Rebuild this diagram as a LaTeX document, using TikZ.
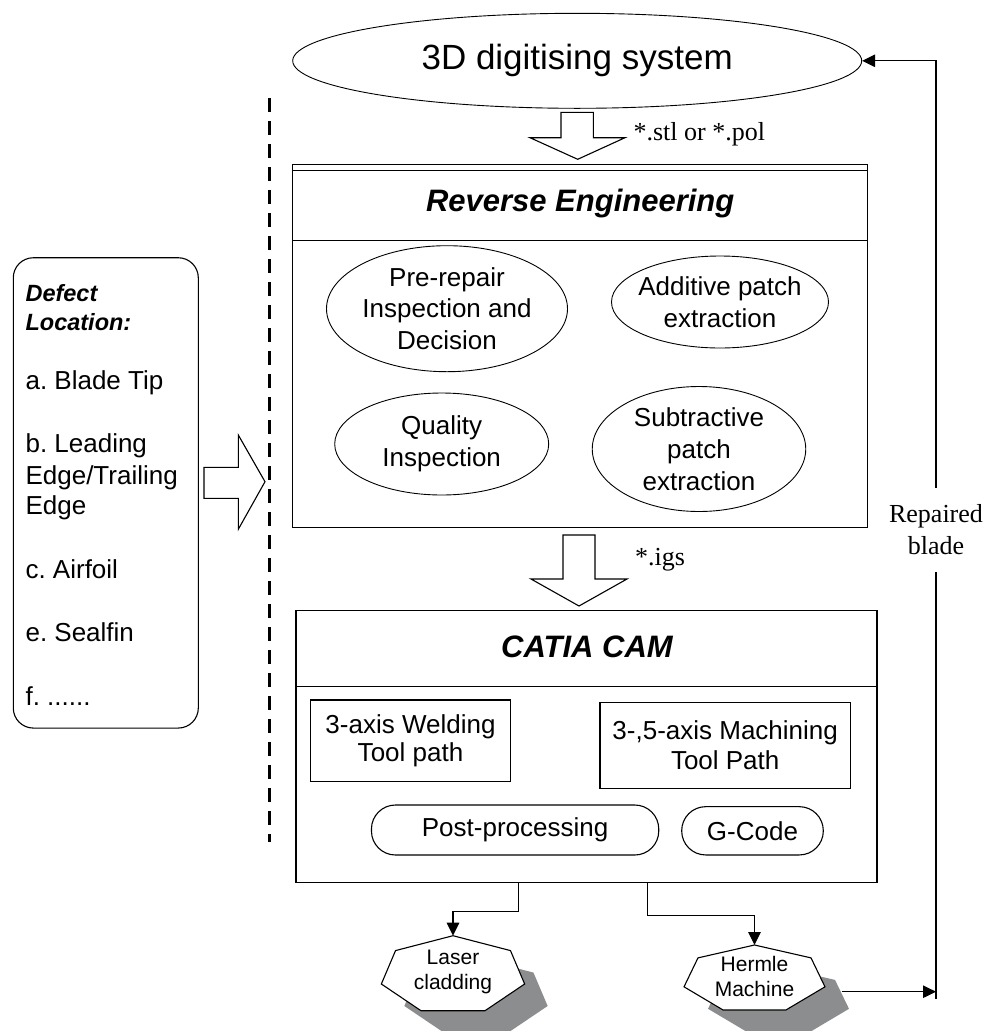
\documentclass[tikz,border=0pt]{standalone}
\usepackage{fontspec}
\setmainfont{Liberation Sans}
\newfontfamily\timesfont{Liberation Serif}
\usetikzlibrary{shapes.geometric, arrows.meta, calc}
\definecolor{shadowgray}{RGB}{140,141,143}
\frenchspacing
\begin{document}
\begin{tikzpicture}[x=1pt, y=-1pt,
  line width=1.1pt,
  boxline/.style={draw, line width=1.2pt, inner sep=0pt},
  ellbox/.style={draw, ellipse, line width=0.9pt, inner sep=0pt},
  txt/.style={font=\fontsize{26}{31.7}\selectfont, align=center, inner sep=0pt},
  ttl/.style={font=\fontsize{31}{36}\selectfont\bfseries\itshape, inner sep=0pt},
  lefttxt/.style={font=\fontsize{26}{31}\selectfont, anchor=base west, inner sep=0pt},
  leftttl/.style={font=\fontsize{23.5}{28}\selectfont\bfseries\itshape, anchor=base west, inner sep=0pt},
  serif/.style={font=\fontsize{26}{32}\selectfont\timesfont, inner sep=0pt},
  arr/.style={-{Triangle[length=13pt,width=12.5pt]}, line width=1.1pt},
  blockarrow/.style={draw, fill=white, line width=1.1pt},
  heptxt/.style={font=\fontsize{21}{24.5}\selectfont, align=center, inner sep=0pt},
  pill/.style={draw, line width=1.1pt, rounded corners=24pt, inner sep=0pt, font=\fontsize{26}{31}\selectfont},
  innerbox/.style={draw, line width=1.1pt, inner sep=0pt, align=center},
]
\useasboundingbox (0,0) rectangle (996,1031);

% dashed separator
\coordinate (dashtop) at (269.3,98);
\coordinate (dashbot) at (269.3,842);
\draw[line width=2.7pt, dash pattern=on 14pt off 9pt] (dashtop) -- (dashbot);

% 3D digitising system
\node[ellbox, minimum width=569pt, minimum height=95pt, font=\fontsize{35}{40}\selectfont] (digit) at (577.2,60.8) {3D digitising system};

% block arrow 1
\draw[blockarrow] (561,112.3) -- (593.3,112.3) -- (593.3,137.7) -- (625,137.7) -- (577.7,159.3) -- (530,137.7) -- (561,137.7) -- cycle;
\node[serif, anchor=base west] (stl) at (633,140) {*.stl or *.pol};

% Reverse Engineering box
\node[boxline, minimum width=575pt, minimum height=363.4pt] (re) at (580.2,346) {};
\draw[line width=1.2pt] ([yshift=-6.7pt]re.north west) -- ([yshift=-6.7pt]re.north east);
\draw[line width=1.2pt] ([yshift=-76.4pt]re.north west) -- ([yshift=-76.4pt]re.north east);
\node[ttl] (retitle) at (580.2,203.7) {Reverse Engineering};

\node[ellbox, minimum width=241pt, minimum height=126pt, label={[txt]center:{Pre-repair\\Inspection and\\Decision}}] (pre) at (447,308.7) {};
\node[ellbox, minimum width=217pt, minimum height=92pt, label={[txt]center:{Additive patch\\extraction}}] (add) at (720,302) {};
\node[ellbox, minimum width=214pt, minimum height=102pt, label={[txt]center:{Quality\\Inspection}}] (qual) at (441.7,444) {};
\node[ellbox, minimum width=213.5pt, minimum height=125pt, label={[txt]center:{Subtractive\\patch\\extraction}}] (sub) at (699,449) {};

% Defect location box
\node[draw, line width=1.1pt, rounded corners=20pt, minimum width=185pt, minimum height=470.3pt, inner sep=0pt] (defect) at (105.8,492.9) {};
\node[leftttl] (d1) at (25,301.7) {Defect};
\node[leftttl] (d2) at (25,330) {Location:};
\node[lefttxt] (d3) at (25,389.3) {a. Blade Tip};
\node[lefttxt] (d4) at (25,452.7) {b. Leading};
\node[lefttxt] (d5) at (25,484) {Edge/Trailing};
\node[lefttxt] (d6) at (25,514.3) {Edge};
\node[lefttxt] (d7) at (25,578.3) {c. Airfoil};
\node[lefttxt] (d8) at (25,641.7) {e. Sealfin};
\node[lefttxt] (d9) at (25,705) {f. ......};

% left block arrow
\draw[blockarrow] (204,467.3) -- (238.3,467.3) -- (238.3,435) -- (265,481.7) -- (238.3,529.3) -- (238.3,498.3) -- (204,498.3) -- cycle;

% block arrow 2
\draw[blockarrow] (563,535) -- (595,535) -- (595,579) -- (627,579) -- (579,606) -- (531,579) -- (563,579) -- cycle;
\node[serif, anchor=base west] (igs) at (634.5,565) {*.igs};

% CATIA CAM box
\node[boxline, minimum width=581pt, minimum height=271.6pt] (cam) at (586.5,746.5) {};
\draw[line width=1.2pt] ([yshift=-76pt]cam.north west) -- ([yshift=-76pt]cam.north east);
\node[ttl] (camtitle) at (587,646.7) {CATIA CAM};

\node[innerbox, minimum width=200.7pt, minimum height=81.7pt, font=\fontsize{26}{28.5}\selectfont] (weld) at (410.5,740.8) {3-axis Welding\\Tool path};
\node[innerbox, minimum width=250.5pt, minimum height=85.8pt, font=\fontsize{26}{30.5}\selectfont] (mach) at (725.2,745.4) {3-,5-axis Machining\\Tool Path};
\node[pill, minimum width=287.3pt, minimum height=50pt] (post) at (515.1,830) {Post-processing};
\node[pill, minimum width=141.6pt, minimum height=48.3pt] (gcode) at (752.5,830.8) {G-Code};

% heptagons with shadows
\fill[shadowgray, shift={(476,997.2)}, xscale=73.5, yscale=39.5] (270:1) \foreach \k in {1,...,6} { -- (270+\k*51.4286:1) } -- cycle;
\draw[fill=white, line width=1.1pt, shift={(453,975.2)}, xscale=73.5, yscale=39.5] (270:1) \foreach \k in {1,...,6} { -- (270+\k*51.4286:1) } -- cycle;
\node[heptxt] (laser) at (453,972) {Laser\\cladding};

\fill[shadowgray, shift={(778.5,1001.2)}, xscale=72.3, yscale=34.2] (270:1) \foreach \k in {1,...,6} { -- (270+\k*51.4286:1) } -- cycle;
\draw[fill=white, line width=1.1pt, shift={(754.5,979.2)}, xscale=72.3, yscale=34.2] (270:1) \foreach \k in {1,...,6} { -- (270+\k*51.4286:1) } -- cycle;
\node[heptxt] (hermle) at (754.5,976.7) {Hermle\\Machine};

\coordinate (lasertop) at (453,935.7);
\coordinate (hermtop) at (754.5,945);
\coordinate (hermout) at (841.7,991.7);
\coordinate (loopbot) at (936,999);

% connectors
\draw[arr] ([xshift=-68.2pt]cam.south) -- ++(0,28.4) -| (lasertop);
\draw[arr] ([xshift=61pt]cam.south) -- ++(0,32.7) -| (hermtop);
\draw[arr] (hermout) -- (hermout -| loopbot);
\draw[arr] (loopbot) |- (digit.east);
\node[serif, fill=white, align=center, minimum height=84pt, inner xsep=2pt] (rep) at (936,529.7) {Repaired\\blade};

\end{tikzpicture}
\end{document}
